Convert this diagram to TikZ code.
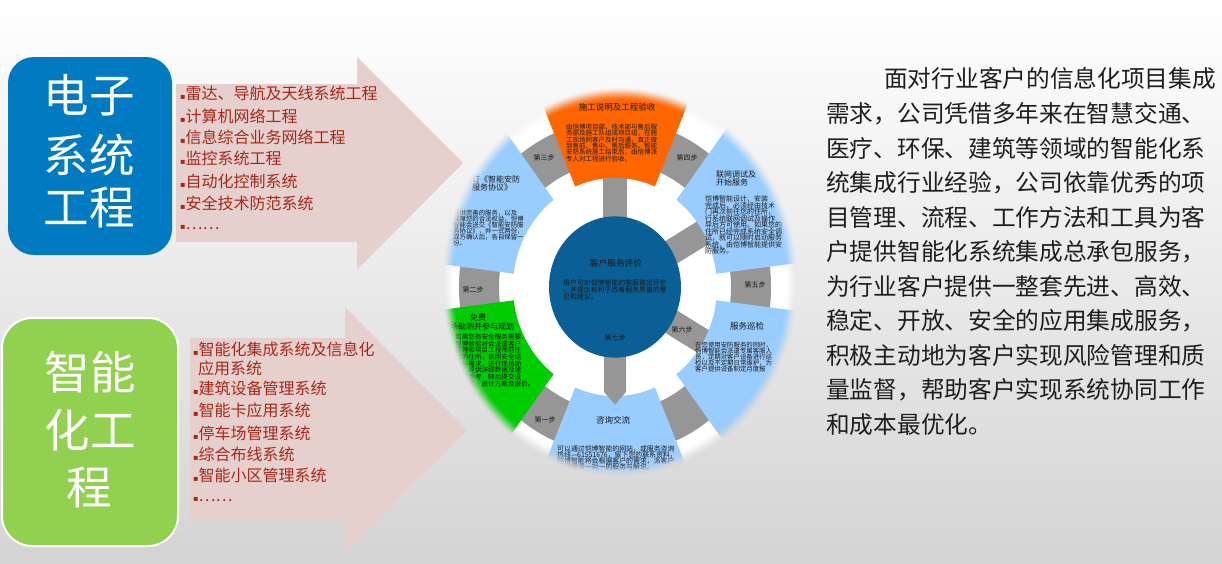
\documentclass[tikz,border=0pt]{standalone}
\usepackage{fontspec}
\setmainfont{Noto Sans CJK SC}
\newfontfamily\dejavu{DejaVu Sans}
\lineskiplimit=-100pt
\definecolor{ebox}{RGB}{0,122,192}
\definecolor{gbox}{RGB}{146,208,80}
\definecolor{pinkarr}{RGB}{229,208,206}
\definecolor{listred}{RGB}{165,40,25}
\definecolor{segblue}{RGB}{153,204,255}
\definecolor{segorange}{RGB}{255,102,0}
\definecolor{seggreen}{RGB}{0,204,0}
\definecolor{hubblue}{RGB}{10,96,150}
\definecolor{stepgray}{RGB}{150,150,150}
\definecolor{bgbot}{RGB}{212,212,212}
\definecolor{paratext}{RGB}{30,30,30}
\definecolor{wtext}{RGB}{25,25,25}
\newcommand\bul{{\dejavu\fontsize{8}{8}\selectfont ▪}}
\tikzset{
  para/.style={anchor=base west, inner sep=0, text=paratext, font=\fontsize{23.7}{28}\selectfont},
  listitem/.style={anchor=base west, inner sep=0, text=listred, font=\fontsize{16}{19}\selectfont},
  bigtext/.style={anchor=base, inner sep=0, text=white, font=\fontsize{45.5}{50}\selectfont},
  wtitle/.style={inner sep=0, text=wtext, align=center, font=\fontsize{8.5}{8.5}\selectfont},
  wbody/.style={anchor=north west, inner sep=0, align=left, text=wtext},
  steplabel/.style={inner sep=0, text=wtext, font=\fontsize{7}{7}\selectfont},
  arrowbody/.style={fill=pinkarr},
  bgshade/.style={top color=white, bottom color=bgbot},
}
\begin{document}
\begin{tikzpicture}[x=1pt,y=-1pt]
\shade[bgshade] (0,0) rectangle (1222,563);
\useasboundingbox (0,0) rectangle (1222,563);

% left category boxes
\node[fill=ebox, rounded corners=26pt, minimum width=164pt, minimum height=198pt, inner sep=0] (eboxn) at (90,156) {};
\node[bigtext] (e1) at (89,112.5) {电子};
\node[bigtext] (e2) at (89,172.5) {系统};
\node[bigtext] (e3) at (89,224.5) {工程};

\node[fill=gbox, draw=white, line width=2pt, rounded corners=30pt, minimum width=176pt, minimum height=228pt, inner sep=0] (gboxn) at (90,432) {};
\node[bigtext] (g1) at (90,389.5) {智能};
\node[bigtext] (g2) at (90,447.5) {化工};
\node[bigtext] (g3) at (89,504.5) {程};

% pink arrows
\fill[arrowbody] (176,84) -- (357,84) -- (357,57) -- (463,163) -- (357,270) -- (357,242) -- (176,242) -- cycle;
\fill[arrowbody] (190,338) -- (345,338) -- (345,307) -- (467,430) -- (345,552) -- (345,520) -- (190,520) -- cycle;

% list 1
\node[listitem] (l1a) at (180,99) {\bul 雷达、导航及天线系统工程};
\node[listitem] (l1b) at (180,122) {\bul 计算机网络工程};
\node[listitem] (l1c) at (180,143) {\bul 信息综合业务网络工程};
\node[listitem] (l1d) at (180,164) {\bul 监控系统工程};
\node[listitem] (l1e) at (180,187) {\bul 自动化控制系统};
\node[listitem] (l1f) at (180,209) {\bul 安全技术防范系统};
\node[listitem] (l1g) at (180,229) {\bul ……};

% list 2
\node[listitem] (l2a) at (193,355) {\bul 智能化集成系统及信息化};
\node[listitem] (l2b) at (198,374) {应用系统};
\node[listitem] (l2c) at (193,394) {\bul 建筑设备管理系统};
\node[listitem] (l2d) at (193,416) {\bul 智能卡应用系统};
\node[listitem] (l2e) at (193,439) {\bul 停车场管理系统};
\node[listitem] (l2f) at (193,460) {\bul 综合布线系统};
\node[listitem] (l2g) at (193,481) {\bul 智能小区管理系统};
\node[listitem] (l2h) at (193,501) {\bul ……};

% wheel
\begin{scope}
\clip (620,282) ellipse [x radius=180pt, y radius=197pt];
\fill[white] (620,282) ellipse [x radius=180pt, y radius=197pt];
\begin{scope}[shift={(615,287)}, yscale=1.07]
  \fill[stepgray, even odd rule] (0,0) circle[radius=156pt] (0,0) circle[radius=116pt];
  \foreach \a in {90,30,-30} \fill[stepgray, rotate=\a] (50pt,-12pt) rectangle (110pt,12pt);
  \foreach \a/\c in {90/segorange, 30/segblue, -30/segblue, -90/segblue, -150/seggreen, 150/segblue}
    \fill[\c] (\a-23:102pt) arc[start angle=\a-23, end angle=\a+23, radius=102pt]
      -- (\a+23:260pt) arc[start angle=\a+23, end angle=\a-23, radius=260pt] -- cycle;
  \fill[stepgray, rotate=-90] (50pt,-11pt) -- (98pt,-11pt) -- (110pt,0pt) -- (98pt,11pt) -- (50pt,11pt) -- cycle;
  \fill[hubblue] (0,0) circle[radius=66pt];
\end{scope}

% step labels
\node[steplabel] (s1) at (545,420) {第一步};
\node[steplabel] (s2) at (473,290) {第二步};
\node[steplabel] (s3) at (544,158) {第三步};
\node[steplabel] (s4) at (687,158) {第四步};
\node[steplabel] (s5) at (755,285) {第五步};
\node[steplabel] (s6) at (682,330) {第六步};
\node[steplabel] (s7) at (615,338) {第七步};

% orange segment
\node[wtitle] (h4) at (617,107) {施工说明及工程验收};
\node[wbody, font=\fontsize{6.5}{6.3}\selectfont] (b4) at (566,124) {由恺博项目部、技术部与售后服\\务部及施工队组成项目组，在施\\工现场同客户及时沟通，真正做\\到售前、售中、售后服务。智能\\安防系统施工结束后，由恺博派\\专人对工程进行验收。};

% top-left segment
\node[wtitle, font=\fontsize{8}{8}\selectfont] (h3) at (492,183) {签订《智能安防\\服务协议》};
\node[wbody, font=\fontsize{6.4}{6}\selectfont] (b3) at (453,209.5) {提供完善的服务，以及\\保障您的合法权益，恺博\\智能会送交《智能安防服\\务协议》，并一式两份，\\双方确认后，各自保留一\\份。};

% top-right segment
\node[wtitle, align=left, anchor=north west, font=\fontsize{8}{8}\selectfont] (h5) at (716,171) {联网调试及\\开始服务};
\node[wbody, font=\fontsize{7}{6.5}\selectfont] (b5) at (705,195.5) {恺博智能设计、安装\\完成后，必须经由技术\\门再次前往您的住所，\\行系统联网调试及操作\\导后方可使用。如果您的\\住所已经完成系统安全调\\试，就可以随时启动服务\\系统，由恺博智能提供安\\防服务。};

% right segment
\node[wtitle] (h6) at (747,326) {服务巡检};
\node[wbody, font=\fontsize{6.4}{6}\selectfont] (b6) at (695,342) {在您使用安防服务的同时，\\恺博智能会派遣专属客服人\\员，定期对客户设备进行巡\\检以及不定期日常维护，为\\客户提供设备制定月度报};

% bottom segment
\node[wtitle] (h1) at (613,420) {咨询交流};
\node[wbody, font=\fontsize{6.9}{6}\selectfont] (b1) at (557,445.5) {可以通过恺博智能的网站，或服务咨询\\热线—61551676，留下您的联系资料，\\恺博智能将会根据客户的需求，派客户\\经理提供一对一的服务与解说。};

% green segment
\node[wtitle, font=\fontsize{8}{9.5}\selectfont] (h2) at (478,322) {免费\\现场勘测并参与规划};
\node[wbody, font=\fontsize{6.6}{6.7}\selectfont] (b2) at (455,333.5) {如果您有安全服务需要，\\恺博智能将会派遣客户\\经理和项目工程师前往\\您的住所，依照安全结\\构与需求，进行现场勘\\测，提供详细数据及建\\议供参考，随后提交设\\备配置、设计方案及报价。};

% hub
\node[wtitle, font=\fontsize{8.7}{8.7}\selectfont] (h7) at (616,263) {客户服务评价};
\node[wbody, font=\fontsize{6.9}{7}\selectfont] (b7) at (563,279.5) {用户可对恺博智能的客服做出评价\\，并提出有利于改善服务质量的意\\见和建议。};
\end{scope}

% soft edge of the wheel: stacked annuli of background colour
\foreach \k in {1,...,14} {
  \pgfmathsetmacro\tA{(\k-1)/14}
  \pgfmathsetmacro\tB{\k/14}
  \pgfmathsetmacro\pA{\tA*\tA*(3-2*\tA)}
  \pgfmathsetmacro\pB{\tB*\tB*(3-2*\tB)}
  \pgfmathsetmacro\al{1-(1-\pB)/(1-\pA)}
  \pgfmathsetmacro\ra{0.92+0.075*\tA}
  \pgfmathsetmacro\xa{180*\ra}
  \pgfmathsetmacro\ya{197*\ra}
  \begin{scope}[even odd rule]
    \clip (620,282) ellipse [x radius=182pt, y radius=199pt] (620,282) ellipse [x radius=\xa pt, y radius=\ya pt];
    \shade[bgshade, opacity=\al] (0,0) rectangle (1222,563);
  \end{scope}
}

% right paragraph
\node[para] (p1) at (884,87) {面对行业客户的信息化项目集成};
\node[para] (p2) at (826,122) {需求，公司凭借多年来在智慧交通、};
\node[para] (p3) at (826,157) {医疗、环保、建筑等领域的智能化系};
\node[para] (p4) at (826,191) {统集成行业经验，公司依靠优秀的项};
\node[para] (p5) at (826,226) {目管理、流程、工作方法和工具为客};
\node[para] (p6) at (826,260) {户提供智能化系统集成总承包服务，};
\node[para] (p7) at (826,295) {为行业客户提供一整套先进、高效、};
\node[para] (p8) at (826,329) {稳定、开放、安全的应用集成服务，};
\node[para] (p9) at (826,364) {积极主动地为客户实现风险管理和质};
\node[para] (p10) at (826,398) {量监督，帮助客户实现系统协同工作};
\node[para] (p11) at (826,433) {和成本最优化。};
\end{tikzpicture}
\end{document}
